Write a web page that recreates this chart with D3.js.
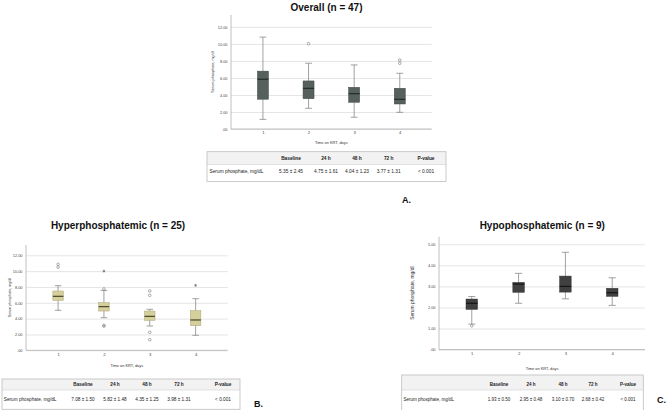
<!DOCTYPE html>
<html><head><meta charset="utf-8">
<script src="https://cdn.jsdelivr.net/npm/d3@7"></script>
<style>
html,body{margin:0;padding:0;background:#fff;}
svg{display:block;font-family:"Liberation Sans",Arial,sans-serif;}
</style></head>
<body><svg id="c" width="669" height="410"></svg>
<script>
// ---------- DATA ----------
const categories = ["1", "2", "3", "4"];
const yTicksHigh = [0, 2, 4, 6, 8, 10, 12];
const yTickLabelsHigh = [".00", "2.00", "4.00", "6.00", "8.00", "10.00", "12.00"];
const yTicksLow = [0, 1, 2, 3, 4, 5];
const yTickLabelsLow = [".00", "1.00", "2.00", "3.00", "4.00", "5.00"];

// each box: [lower whisker, Q1, median, Q3, upper whisker]
const overallBoxes = [[1.13, 3.5, 5.85, 6.8, 10.8], [2.43, 3.56, 4.78, 5.65, 7.73], [1.38, 3.14, 4.15, 4.9, 7.53], [1.96, 2.94, 3.49, 4.79, 6.55]];
const overallOutliers = [[], [[10.03, "o"]], [], [[8.1, "o"], [7.73, "o"]]];
const hyperBoxes = [[5.05, 6.31, 6.82, 7.49, 8.16], [4.12, 4.96, 5.51, 6.01, 7.55], [3.07, 3.79, 4.29, 4.96, 5.18], [1.89, 3.11, 3.83, 5.0, 6.52]];
const hyperOutliers = [[[10.86, "o"], [10.5, "o"]], [[10.0, "*"], [7.75, "o"], [3.13, "o"], [3.07, "o"]], [[7.49, "o"], [6.94, "o"], [2.27, "o"], [1.34, "o"]], [[8.2, "*"]]];
const hypoBoxes = [[1.21, 1.91, 2.2, 2.4, 2.52], [2.2, 2.72, 3.11, 3.19, 3.62], [2.41, 2.73, 3.0, 3.49, 4.62], [2.1, 2.53, 2.7, 2.91, 3.41]];
const hypoOutliers = [[[1.13, "o"]], [], [], []];

const titles = ["Overall (n = 47)", "Hyperphosphatemic (n = 25)", "Hypophosphatemic (n = 9)"];
const panelLetters = ["A.", "B.", "C."];
const yAxisTitle = "Serum phosphate, mg/dl";
const xAxisTitle = "Time on KRT, days";
const tableHeader = ["", "Baseline", "24 h", "48 h", "72 h", "P-value"];
const overallRow = ["Serum phosphate, mg/dL", "5.35 ± 2.45", "4.75 ± 1.61", "4.04 ± 1.23", "3.77 ± 1.31", "< 0.001"];
const hyperRow = ["Serum phosphate, mg/dL", "7.08 ± 1.50", "5.82 ± 1.48", "4.35 ± 1.25", "3.98 ± 1.31", "< 0.001"];
const hypoRow = ["Serum phosphate, mg/dL", "1.93 ± 0.50", "2.95 ± 0.48", "3.10 ± 0.70", "2.68 ± 0.42", "< 0.001"];

// ---------- LAYOUT ----------
const panels = [
  {title: titles[0], letter: panelLetters[0], boxes: overallBoxes, outliers: overallOutliers, row: overallRow,
   ticks: yTicksHigh, tickLabels: yTickLabelsHigh, yMax: 13.4,
   x0: 231, x1: 431.7, yBottom: 129, yTop: 15, titleX: 326.5, titleY: 7.5,
   yTitleX: 213, yTitleSize: 3.8, boxW: 11, fill: "#56615d", stroke: "#3f4845", median: "#1f2624",
   xTitleY: 142, tickY: 132.3,
   table: {x0: 207, x1: 446, y0: 151.7, yMid: 164.5, y1: 181.5, hy: 158.3, dy: 171.8, lx: 209.5, cols: [291, 326, 357, 388.7, 426], size: 4.8},
   letterX: 402, letterY: 203},
  {title: titles[1], letter: panelLetters[1], boxes: hyperBoxes, outliers: hyperOutliers, row: hyperRow,
   ticks: yTicksHigh, tickLabels: yTickLabelsHigh, yMax: 13.3,
   x0: 26, x1: 227.7, yBottom: 350.3, yTop: 245, titleX: 118, titleY: 225.7,
   yTitleX: 9.5, yTitleSize: 3.6, boxW: 10.5, fill: "#d5cf9b", stroke: "#aaa476", median: "#3b3a22",
   xTitleY: 365.7, tickY: 354.3,
   table: {x0: 2, x1: 240, y0: 379, yMid: 390, y1: 409.3, hy: 384.3, dy: 399, lx: 3.8, cols: [83, 115, 147, 179, 223], size: 4.7},
   letterX: 254, letterY: 407},
  {title: titles[2], letter: panelLetters[2], boxes: hypoBoxes, outliers: hypoOutliers, row: hypoRow,
   ticks: yTicksLow, tickLabels: yTickLabelsLow, yMax: 5.36,
   x0: 439, x1: 645, yBottom: 349.6, yTop: 236.7, titleX: 542.3, titleY: 225,
   yTitleX: 412, yTitleSize: 4.9, boxW: 11.5, fill: "#404040", stroke: "#2e2e2e", median: "#111",
   xTitleY: 368.3, tickY: 353.5,
   table: {x0: 401.7, x1: 643.3, y0: 375, yMid: 390, y1: 412, hy: 384.3, dy: 399.3, lx: 403.5, cols: [499, 531, 563, 593, 628], size: 4.5},
   letterX: 657, letterY: 403}
];

const svg = d3.select("#c");

panels.forEach(p => {
  const g = svg.append("g");
  const x = d3.scalePoint().domain(categories).range([p.x0, p.x1]).padding(0.7);
  const y = d3.scaleLinear().domain([0, p.yMax]).range([p.yBottom, p.yTop]);

  // gridlines + y tick labels
  const yAxis = d3.axisLeft(y).tickValues(p.ticks).tickFormat((d, i) => p.tickLabels[i])
    .tickSize(-(p.x1 - p.x0)).tickPadding(3.5);
  const ya = g.append("g").attr("transform", `translate(${p.x0},0)`).call(yAxis);
  ya.select(".domain").remove();
  ya.selectAll(".tick line").attr("stroke", "#dedede").attr("stroke-width", 0.8);
  ya.selectAll(".tick text").attr("font-size", 3.9).attr("fill", "#444").attr("font-family", "Liberation Sans, Arial, sans-serif");
  // left axis line
  g.append("line").attr("x1", p.x0).attr("x2", p.x0).attr("y1", y(0)).attr("y2", y(p.yMax))
    .attr("stroke", "#b0b0b0").attr("stroke-width", 0.8);
  // bottom axis
  const xAxis = d3.axisBottom(x).tickSize(0).tickPadding(2.5);
  const xa = g.append("g").attr("transform", `translate(0,${y(0)})`).call(xAxis);
  xa.select(".domain").attr("stroke", "#b0b0b0").attr("stroke-width", 0.8).attr("d", `M${p.x0},0H${p.x1}`);
  xa.selectAll(".tick text").attr("font-size", 4.2).attr("fill", "#444").attr("font-family", "Liberation Sans, Arial, sans-serif");

  // boxes
  const bx = g.selectAll(".bx").data(p.boxes).join("g").attr("class", "bx");
  const cx = (d, i) => x(categories[i]);
  const cap = p.boxW * 0.62;
  bx.append("line").attr("x1", cx).attr("x2", cx).attr("y1", d => y(d[0])).attr("y2", d => y(d[1]))
    .attr("stroke", "#8a8a8a").attr("stroke-width", 0.8);
  bx.append("line").attr("x1", cx).attr("x2", cx).attr("y1", d => y(d[3])).attr("y2", d => y(d[4]))
    .attr("stroke", "#8a8a8a").attr("stroke-width", 0.8);
  bx.append("line").attr("x1", (d, i) => cx(d, i) - cap / 2).attr("x2", (d, i) => cx(d, i) + cap / 2)
    .attr("y1", d => y(d[0])).attr("y2", d => y(d[0])).attr("stroke", "#8a8a8a").attr("stroke-width", 0.8);
  bx.append("line").attr("x1", (d, i) => cx(d, i) - cap / 2).attr("x2", (d, i) => cx(d, i) + cap / 2)
    .attr("y1", d => y(d[4])).attr("y2", d => y(d[4])).attr("stroke", "#8a8a8a").attr("stroke-width", 0.8);
  bx.append("rect").attr("x", (d, i) => cx(d, i) - p.boxW / 2).attr("width", p.boxW)
    .attr("y", d => y(d[3])).attr("height", d => y(d[1]) - y(d[3]))
    .attr("fill", p.fill).attr("stroke", p.stroke).attr("stroke-width", 0.5);
  bx.append("line").attr("x1", (d, i) => cx(d, i) - p.boxW / 2).attr("x2", (d, i) => cx(d, i) + p.boxW / 2)
    .attr("y1", d => y(d[2])).attr("y2", d => y(d[2])).attr("stroke", p.median).attr("stroke-width", 1.1);

  // outliers
  const outs = [];
  p.outliers.forEach((arr, i) => arr.forEach(o => outs.push({c: categories[i], v: o[0], t: o[1]})));
  g.selectAll(".oc").data(outs.filter(o => o.t === "o")).join("circle")
    .attr("cx", d => x(d.c)).attr("cy", d => y(d.v)).attr("r", 1.3)
    .attr("fill", "none").attr("stroke", "#777").attr("stroke-width", 0.6);
  g.selectAll(".os").data(outs.filter(o => o.t === "*")).join("path")
    .attr("transform", d => `translate(${x(d.c)},${y(d.v)})`)
    .attr("d", d3.symbol(d3.symbolAsterisk, 5)).attr("fill", "none").attr("stroke", "#666").attr("stroke-width", 0.7);

  // titles
  g.append("text").attr("x", p.titleX).attr("y", p.titleY).attr("text-anchor", "middle").attr("dominant-baseline", "central")
    .attr("font-size", 10).attr("font-weight", "bold").attr("fill", "#111").text(p.title);
  g.append("text").attr("transform", `translate(${p.yTitleX},${(y(0) + y(p.yMax)) / 2}) rotate(-90)`)
    .attr("text-anchor", "middle").attr("dominant-baseline", "central")
    .attr("font-size", p.yTitleSize).attr("fill", "#333").text(yAxisTitle);
  g.append("text").attr("x", (p.x0 + p.x1) / 2).attr("y", p.xTitleY).attr("text-anchor", "middle").attr("dominant-baseline", "central")
    .attr("font-size", 3.9).attr("fill", "#333").text(xAxisTitle);

  // table
  const t = p.table;
  g.append("rect").attr("x", t.x0).attr("y", t.y0).attr("width", t.x1 - t.x0).attr("height", t.yMid - t.y0)
    .attr("fill", "#f2f2f2");
  g.append("line").attr("x1", t.x0).attr("x2", t.x1).attr("y1", t.yMid).attr("y2", t.yMid).attr("stroke", "#d0d0d0").attr("stroke-width", 0.6);
  g.append("rect").attr("x", t.x0).attr("y", t.y0).attr("width", t.x1 - t.x0).attr("height", t.y1 - t.y0)
    .attr("fill", "none").attr("stroke", "#bdbdbd").attr("stroke-width", 0.8);
  g.selectAll(".th").data(tableHeader.slice(1)).join("text")
    .attr("x", (d, i) => t.cols[i]).attr("y", t.hy).attr("text-anchor", "middle").attr("dominant-baseline", "central")
    .attr("font-size", t.size).attr("font-weight", "bold").attr("fill", "#222").text(d => d);
  g.append("text").attr("x", t.lx).attr("y", t.dy).attr("dominant-baseline", "central")
    .attr("font-size", t.size).attr("fill", "#222").text(p.row[0]);
  g.selectAll(".td").data(p.row.slice(1)).join("text")
    .attr("x", (d, i) => t.cols[i]).attr("y", t.dy).attr("text-anchor", "middle").attr("dominant-baseline", "central")
    .attr("font-size", t.size).attr("fill", "#222").text(d => d);

  g.append("text").attr("x", p.letterX).attr("y", p.letterY).attr("font-size", 9).attr("font-weight", "bold")
    .attr("fill", "#111").text(p.letter);
});
</script></body></html>
